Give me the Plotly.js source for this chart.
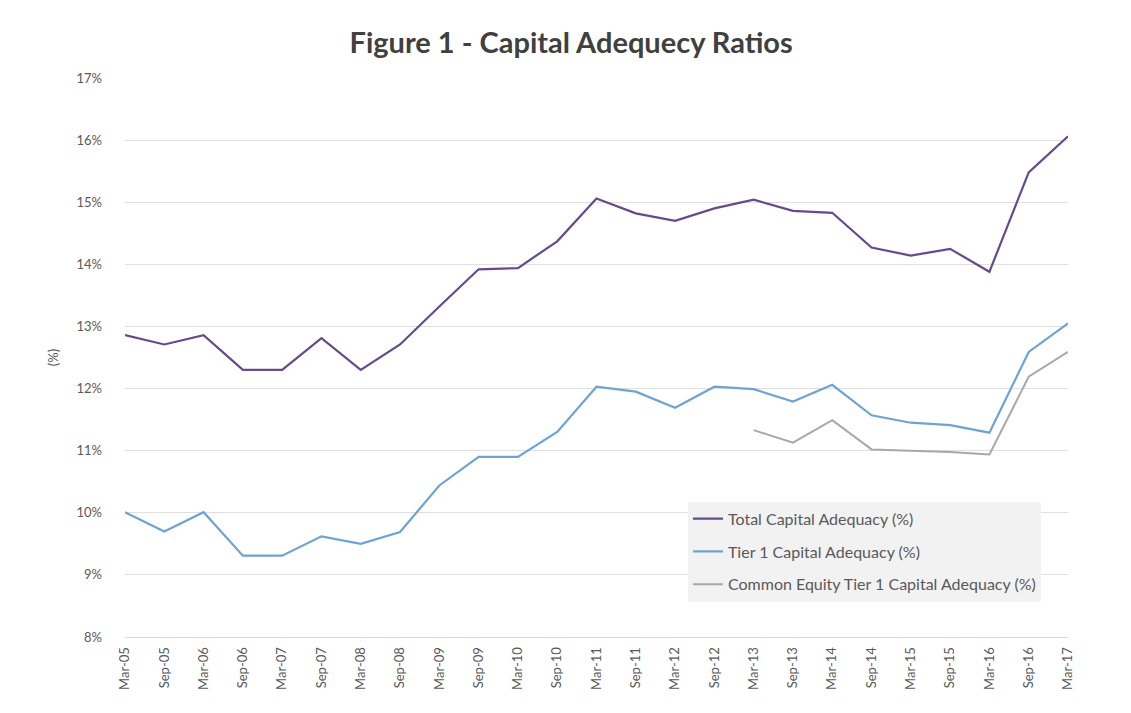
<!DOCTYPE html>
<html>
<head>
<meta charset="utf-8">
<script src="https://cdn.plot.ly/plotly-3.0.1.min.js"></script>
<style>html,body{margin:0;padding:0;background:#fff;}#chart{width:1131px;height:713px;}</style>
</head>
<body>
<div id="chart"></div>
<script>
var categories = ["Mar-05","Sep-05","Mar-06","Sep-06","Mar-07","Sep-07","Mar-08","Sep-08","Mar-09","Sep-09","Mar-10","Sep-10","Mar-11","Sep-11","Mar-12","Sep-12","Mar-13","Sep-13","Mar-14","Sep-14","Mar-15","Sep-15","Mar-16","Sep-16","Mar-17"];
var totalCAR = [12.86,12.71,12.86,12.30,12.30,12.81,12.30,12.71,13.32,13.92,13.94,14.37,15.06,14.82,14.70,14.90,15.04,14.86,14.83,14.27,14.14,14.25,13.88,15.48,16.06];
var tier1CAR = [10.01,9.70,10.01,9.31,9.31,9.62,9.50,9.69,10.44,10.90,10.90,11.30,12.03,11.95,11.69,12.03,11.99,11.79,12.06,11.57,11.45,11.41,11.29,12.59,13.05];
var cet1CAR = [null,null,null,null,null,null,null,null,null,null,null,null,null,null,null,null,11.33,11.13,11.49,11.02,11.00,10.98,10.94,12.19,12.59];
var seriesNames = ["Total Capital Adequacy (%)","Tier 1 Capital Adequacy (%)","Common Equity Tier 1 Capital Adequacy (%)"];
var yTicks = [8,9,10,11,12,13,14,15,16,17];

var font = "Lato, 'Open Sans', sans-serif";
var traces = [
  {x: categories, y: totalCAR, name: seriesNames[0], type: 'scatter', mode: 'lines', line: {color: '#654A8C', width: 2.2}, legendgroup: 'a'},
  {x: categories, y: tier1CAR, name: seriesNames[1], type: 'scatter', mode: 'lines', line: {color: '#6FA3D2', width: 2.2}, legendgroup: 'b'},
  {x: categories, y: cet1CAR, name: seriesNames[2], type: 'scatter', mode: 'lines', line: {color: '#A8A8A8', width: 2}, legendgroup: 'c'}
];
var layout = {
  width: 1131, height: 713,
  margin: {l: 125, r: 63, t: 78, b: 76},
  paper_bgcolor: '#fff', plot_bgcolor: '#fff',
  font: {family: font, color: '#595959', size: 12},
  title: {text: '<b>Figure 1 - Capital Adequecy Ratios</b>', x: 0.505, xanchor: 'center', y: 0.94, yanchor: 'middle', font: {family: font, size: 29, color: '#404040'}},
  xaxis: {
    type: 'category', range: [0, 24], tickangle: -90, showgrid: false,
    showline: true, linecolor: '#D9D9D9', linewidth: 1, ticks: '', zeroline: false,
    ticklabelstandoff: 4,
    tickfont: {family: font, size: 13, color: '#595959'}, fixedrange: true
  },
  yaxis: {
    range: [8, 17], tickvals: yTicks, ticktext: yTicks.map(function(v){return v + '%';}),
    showgrid: true, gridcolor: '#E0E0E0', gridwidth: 1, zeroline: false, showline: false, ticks: '',
    ticklabelstandoff: 22,
    tickfont: {family: font, size: 13, color: '#595959'},
    title: {text: '(%)', font: {family: font, size: 13, color: '#595959'}, standoff: 14}, fixedrange: true
  },
  showlegend: true,
  legend: {
    x: 0.597, y: 0.242, xanchor: 'left', yanchor: 'top',
    bgcolor: '#F2F2F2', borderwidth: 0, traceorder: 'grouped', tracegroupgap: 9,
    font: {family: font, size: 16, color: '#595959'}, itemwidth: 30
  }
};
Plotly.newPlot('chart', traces, layout, {displayModeBar: false, staticPlot: true});
</script>
</body>
</html>
